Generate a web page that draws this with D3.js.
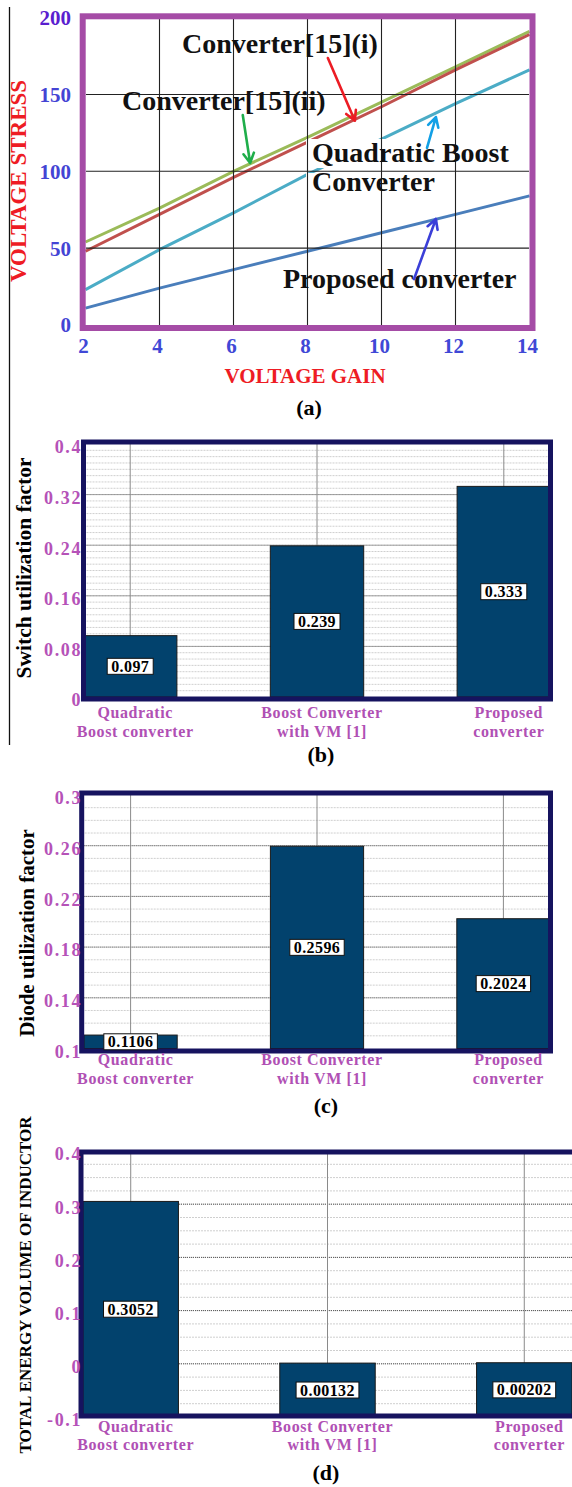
<!DOCTYPE html>
<html><head><meta charset="utf-8">
<script src="https://cdn.jsdelivr.net/npm/d3@7"></script>
<style>
body{margin:0;background:#fff}
svg{display:block}
text{font-family:"Liberation Serif","Times New Roman",serif;font-weight:bold}
</style>
</head><body>
<svg id="chart" width="572" height="1487"></svg>
<script>
// ---------- DATA ----------
// (a) voltage stress vs voltage gain
const gain = [2, 4, 6, 8, 10, 12, 14];
const stressConv15i = [48, 72, 96, 119, 142, 166, 189];
const stressConv15ii = [54, 76, 100, 122, 145, 168, 191];
const stressQuadBoost = [23, 49, 73, 98, 121, 144, 166];
const stressProposed = [11, 24, 36, 48, 60, 72, 84];
const stressTicks = [0, 50, 100, 150, 200];
const gainTicks = [2, 4, 6, 8, 10, 12, 14];

// (b)(c)(d) categories
const converters = ["Quadratic Boost converter", "Boost Converter with VM [1]", "Proposed converter"];
const converterLabelLines = [["Quadratic", "Boost converter"], ["Boost Converter", "with VM [1]"], ["Proposed", "converter"]];
// (b)
const switchUtil = [0.097, 0.239, 0.333];
const switchTicks = [0, 0.08, 0.16, 0.24, 0.32, 0.4];
// (c)
const diodeUtil = [0.1106, 0.2596, 0.2024];
const diodeTicks = [0.1, 0.14, 0.18, 0.22, 0.26, 0.3];
// (d)
const inductorEnergy = [0.3052, 0.00132, 0.00202];
const energyTicks = [-0.1, 0, 0.1, 0.2, 0.3, 0.4];

// annotation arrows in data coordinates: [gainTail, stressTail, gainTip, stressTip]
const arrowRed = [8.55, 173.7, 9.28, 132.9];
const arrowGreen = [6.25, 136.6, 6.45, 105.4];
const arrowCyan = [11.23, 115.2, 11.47, 135.3];
const arrowBlue = [10.88, 29.9, 11.47, 69];

// ---------- DRAW ----------
const svg = d3.select("#chart");
svg.append("rect").attr("width", 572).attr("height", 1487).attr("fill", "#fff");
svg.append("line").attr("x1", 9.5).attr("x2", 9.5).attr("y1", 7).attr("y2", 745)
  .attr("stroke", "#111").attr("stroke-width", 1.3);

// ===== Panel (a) =====
const ax = d3.scaleLinear().domain([2, 14]).range([85.5, 529.5]);
const ay = d3.scaleLinear().domain([0, 200]).range([325, 17.6]);
const ga = svg.append("g");

const series = [
  {v: stressProposed, c: "#4a7ebb"},
  {v: stressQuadBoost, c: "#4bacc6"},
  {v: stressConv15ii, c: "#9bbb59"},
  {v: stressConv15i, c: "#c0504d"}
];
const lineGen = d3.line().x((d, i) => ax(gain[i])).y(d => ay(d));
series.forEach(s => ga.append("path").attr("d", lineGen(s.v))
  .attr("fill", "none").attr("stroke", s.c).attr("stroke-width", 3));

// white background under "Quadratic Boost" label
ga.append("rect").attr("x", 306).attr("y", 139).attr("width", 210).attr("height", 29).attr("fill", "#fff");
ga.append("rect").attr("x", 306).attr("y", 173).attr("width", 132).attr("height", 23).attr("fill", "#fff");

// grid
ga.selectAll(".vg").data(gainTicks.slice(1, -1)).enter().append("line")
  .attr("x1", d => ax(d)).attr("x2", d => ax(d)).attr("y1", 19).attr("y2", ay(0))
  .attr("stroke", "#222").attr("stroke-width", 1.1);
ga.selectAll(".hg").data(stressTicks.slice(1, -1)).enter().append("line")
  .attr("x1", 86).attr("x2", 529).attr("y1", d => ay(d)).attr("y2", d => ay(d))
  .attr("stroke", "#222").attr("stroke-width", 1.1);

// frame
ga.append("rect").attr("x", 82.7).attr("y", 16.3).attr("width", 449.8).attr("height", 311.7)
  .attr("fill", "none").attr("stroke", "#a54ca6").attr("stroke-width", 6);

// ticks
ga.selectAll(".yl").data(stressTicks).enter().append("text")
  .attr("x", 71).attr("y", d => ay(d)).attr("dy", "0.35em").attr("text-anchor", "end")
  .attr("font-size", 21).attr("fill", d => d === 200 ? "#5a1ecf" : "#4444d4").text(d => d);
ga.selectAll(".xl").data(gainTicks).enter().append("text")
  .attr("x", d => ax(d) - 2).attr("y", 353).attr("text-anchor", "middle")
  .attr("font-size", 21).attr("fill", "#4048d6").text(d => d);

ga.append("text").attr("x", 305).attr("y", 383).attr("text-anchor", "middle")
  .attr("font-size", 21).attr("fill", "#ee1c24").text("VOLTAGE GAIN");
ga.append("text").attr("transform", "translate(26,181) rotate(-90)").attr("text-anchor", "middle")
  .attr("font-size", 23).attr("fill", "#ee1c24").text("VOLTAGE STRESS");
ga.append("text").attr("x", 309).attr("y", 415).attr("text-anchor", "middle")
  .attr("font-size", 22).attr("fill", "#000").text("(a)");

// series labels
const seriesLabelFont = 28;
[["Converter[15](i)", 182, 53], ["Converter[15](ii)", 122, 110], ["Quadratic Boost", 312, 162],
 ["Converter", 312, 191], ["Proposed converter", 283, 288]].forEach(l => {
  ga.append("text").attr("x", l[1]).attr("y", l[2]).attr("font-size", seriesLabelFont)
    .attr("fill", "#111").text(l[0]);
});

function arrow(a, color) {
  const x1 = ax(a[0]), y1 = ay(a[1]), x2 = ax(a[2]), y2 = ay(a[3]);
  const ang = Math.atan2(y2 - y1, x2 - x1);
  const L = 11, sp = 0.5;
  const p = "M" + x1 + "," + y1 + "L" + x2 + "," + y2 +
    "M" + (x2 - L * Math.cos(ang - sp)) + "," + (y2 - L * Math.sin(ang - sp)) +
    "L" + x2 + "," + y2 +
    "L" + (x2 - L * Math.cos(ang + sp)) + "," + (y2 - L * Math.sin(ang + sp));
  ga.append("path").attr("d", p).attr("fill", "none").attr("stroke", color)
    .attr("stroke-width", 2.6).attr("stroke-linecap", "round").attr("stroke-linejoin", "round");
}
arrow(arrowRed, "#ec1c24");
arrow(arrowGreen, "#1fae4a");
arrow(arrowCyan, "#12a0e6");
arrow(arrowBlue, "#3b3fd8");

// ===== bar panels =====
function barPanel(o) {
  const g = svg.append("g");
  const x = d3.scaleBand().domain(converters).range(o.xr).paddingInner(o.pad).paddingOuter(0);
  const ymin = o.ticks[0], ymax = o.ticks[o.ticks.length - 1];
  const y = d3.scaleLinear().domain([ymin, ymax]).range(o.yr);
  const left = o.frame[0], right = o.frame[2];

  // minor grid
  const nMinor = Math.round((ymax - ymin) / o.minor);
  const minors = d3.range(1, nMinor).map(i => ymin + i * o.minor);
  g.selectAll(".mn").data(minors).enter().append("line")
    .attr("x1", left).attr("x2", right).attr("y1", d => y(d)).attr("y2", d => y(d))
    .attr("stroke", "#cfcfcf").attr("stroke-width", 1).attr("stroke-dasharray", "2,1");
  // major grid
  g.selectAll(".mj").data(o.ticks.slice(1, -1)).enter().append("line")
    .attr("x1", left).attr("x2", right).attr("y1", d => y(d)).attr("y2", d => y(d))
    .attr("stroke", "#555").attr("stroke-width", 1).attr("stroke-dasharray", "1,1");
  // vertical grid
  g.selectAll(".vg").data(converters).enter().append("line")
    .attr("x1", d => x(d) + x.bandwidth() / 2).attr("x2", d => x(d) + x.bandwidth() / 2)
    .attr("y1", o.yr[1]).attr("y2", o.yr[0])
    .attr("stroke", "#8a8a8a").attr("stroke-width", 1);

  // bars
  g.selectAll(".bar").data(o.values).enter().append("rect")
    .attr("x", (d, i) => x(converters[i])).attr("width", x.bandwidth())
    .attr("y", d => y(d)).attr("height", d => y(ymin) - y(d))
    .attr("fill", "#02426d").attr("stroke", "#1a1a1a").attr("stroke-width", 1);

  // frame
  g.append("rect").attr("x", o.frame[0]).attr("y", o.frame[1])
    .attr("width", o.frame[2] - o.frame[0]).attr("height", o.frame[3] - o.frame[1])
    .attr("fill", "none").attr("stroke", "#16135f").attr("stroke-width", 5);

  // value labels
  o.values.forEach((v, i) => {
    const cx = x(converters[i]) + x.bandwidth() / 2;
    const cy = (y(v) + y(ymin)) / 2;
    const t = g.append("text").attr("x", cx).attr("y", cy).attr("dy", "0.35em")
      .attr("text-anchor", "middle").attr("font-size", 16).attr("letter-spacing", 0.4)
      .attr("fill", "#000").text(String(v));
    const w = t.node().getComputedTextLength();
    g.insert("rect", function () { return t.node(); })
      .attr("x", cx - w / 2 - 4).attr("y", cy - 8).attr("width", w + 8).attr("height", 16)
      .attr("fill", "#fff").attr("stroke", "#111").attr("stroke-width", 1);
  });

  // y tick labels
  g.selectAll(".yt").data(o.ticks).enter().append("text")
    .attr("x", 82).attr("y", d => y(d) + 3).attr("dy", "0.35em").attr("text-anchor", "end")
    .attr("font-size", 18).attr("letter-spacing", 1.6).attr("fill", "#b552b8").text(d => String(d));

  // category labels
  converterLabelLines.forEach((lines, i) => {
    const cx = x(converters[i]) + x.bandwidth() / 2 + 5;
    lines.forEach((s, j) => {
      g.append("text").attr("x", cx).attr("y", o.catY[j]).attr("text-anchor", "middle")
        .attr("font-size", 16).attr("letter-spacing", 0.6).attr("fill", "#b050b4").text(s);
    });
  });

  // axis title
  g.append("text").attr("transform", "translate(" + o.titleX + "," + o.titleY + ") rotate(-90)")
    .attr("text-anchor", "middle").attr("font-size", o.titleSize).attr("fill", "#000").text(o.title);
  // panel label
  g.append("text").attr("x", o.tagX).attr("y", o.tagY).attr("text-anchor", "middle")
    .attr("font-size", 22).attr("fill", "#000").text(o.tag);
}

barPanel({
  values: switchUtil, ticks: switchTicks, minor: 0.01,
  xr: [83.5, 550.5], pad: 0.5, yr: [697, 444],
  frame: [83.5, 442, 550.5, 699],
  catY: [718, 737],
  title: "Switch utilization factor", titleX: 31, titleY: 568, titleSize: 21.5,
  tag: "(b)", tagX: 321, tagY: 762
});

barPanel({
  values: diodeUtil, ticks: diodeTicks, minor: 0.01,
  xr: [84, 550], pad: 0.5, yr: [1048.5, 795],
  frame: [81.7, 793, 550.5, 1051],
  catY: [1065, 1083.5],
  title: "Diode utilization factor", titleX: 34, titleY: 933, titleSize: 21,
  tag: "(c)", tagX: 326, tagY: 1113
});

barPanel({
  values: inductorEnergy, ticks: energyTicks, minor: 0.025,
  xr: [83, 572], pad: 0.515, yr: [1417, 1151],
  frame: [81, 1152, 600, 1416],
  catY: [1431.5, 1450],
  title: "TOTAL ENERGY VOLUME OF INDUCTOR", titleX: 31, titleY: 1285, titleSize: 17,
  tag: "(d)", tagX: 326, tagY: 1480
});
</script>
</body></html>
